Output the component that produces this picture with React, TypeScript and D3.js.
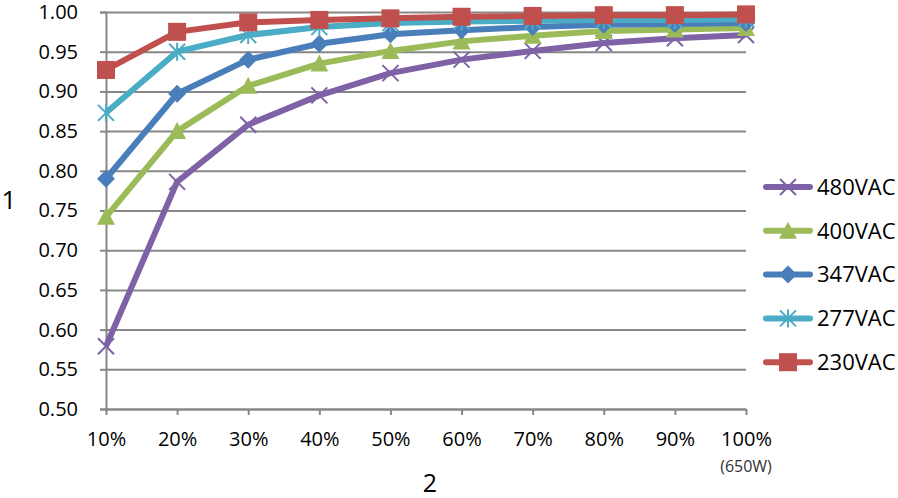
import { useEffect, useRef } from 'react'
import * as d3 from 'd3'

const loadLevels = ['10%', '20%', '30%', '40%', '50%', '60%', '70%', '80%', '90%', '100%']
const yTicks = [0.5, 0.55, 0.6, 0.65, 0.7, 0.75, 0.8, 0.85, 0.9, 0.95, 1.0]

const seriesNames = ['480VAC', '400VAC', '347VAC', '277VAC', '230VAC']
const v480 = [0.579, 0.786, 0.858, 0.895, 0.923, 0.94, 0.951, 0.961, 0.967, 0.971]
const v400 = [0.742, 0.85, 0.907, 0.935, 0.951, 0.963, 0.97, 0.976, 0.978, 0.98]
const v347 = [0.79, 0.897, 0.94, 0.96, 0.972, 0.977, 0.981, 0.984, 0.985, 0.986]
const v277 = [0.873, 0.95, 0.971, 0.981, 0.986, 0.988, 0.989, 0.99, 0.99, 0.991]
const v230 = [0.927, 0.975, 0.987, 0.99, 0.992, 0.994, 0.995, 0.996, 0.996, 0.997]
const seriesValues = [v480, v400, v347, v277, v230]
const seriesColors = ['#7f62a6', '#9bbb59', '#4a7ebb', '#4bacc6', '#c0504d']
const seriesMarkers = ['x', 'triangle', 'diamond', 'asterisk', 'square']

const FONT = '"Open Sans", "Liberation Sans", sans-serif'

type Sel = d3.Selection<SVGGElement, unknown, null, undefined>

function drawMarker(g: Sel, kind: string, cx: number, cy: number, color: string) {
  if (kind === 'square') {
    g.append('rect')
      .attr('x', cx - 9).attr('y', cy - 9)
      .attr('width', 18).attr('height', 18)
      .attr('fill', color)
  } else if (kind === 'diamond') {
    g.append('path')
      .attr('d', `M${cx},${cy - 9}L${cx + 9},${cy}L${cx},${cy + 9}L${cx - 9},${cy}Z`)
      .attr('fill', color)
  } else if (kind === 'triangle') {
    g.append('path')
      .attr('d', `M${cx},${cy - 9}L${cx + 9},${cy + 8}L${cx - 9},${cy + 8}Z`)
      .attr('fill', color)
  } else {
    const r = 8
    let d = `M${cx - r},${cy - r}L${cx + r},${cy + r}M${cx - r},${cy + r}L${cx + r},${cy - r}`
    if (kind === 'asterisk') d += `M${cx},${cy - r - 1}L${cx},${cy + r + 1}`
    g.append('path')
      .attr('d', d)
      .attr('fill', 'none')
      .attr('stroke', color)
      .attr('stroke-width', 2)
  }
}

export default function App() {
  const svgRef = useRef<SVGSVGElement>(null)

  useEffect(() => {
    if (!svgRef.current) return
    const svg = d3.select(svgRef.current)
    svg.selectAll('*').remove()

    const margin = { top: 12, right: 152, bottom: 89, left: 106 }
    const width = 898 - margin.left - margin.right
    const height = 498 - margin.top - margin.bottom
    const gridColor = '#878787'

    const g = svg.append('g').attr('transform', `translate(${margin.left},${margin.top})`)

    const x = d3.scalePoint<string>().domain(loadLevels).range([0, width])
    const y = d3.scaleLinear().domain([0.5, 1.0]).range([height, 0])

    // horizontal grid
    g.append('g')
      .call(d3.axisLeft(y).tickValues(yTicks).tickSize(-width).tickFormat(() => ''))
      .call(s => s.select('.domain').remove())
      .call(s => s.selectAll('.tick line').attr('stroke', gridColor).attr('stroke-width', 2))

    // y axis
    g.append('g')
      .call(d3.axisLeft(y).tickValues(yTicks).tickSize(6).tickPadding(22).tickFormat(d3.format('.2f')))
      .call(s => s.select('.domain').attr('stroke', gridColor).attr('stroke-width', 2))
      .call(s => s.selectAll('.tick line').attr('stroke', gridColor).attr('stroke-width', 2))
      .call(s => s.selectAll('.tick text')
        .attr('fill', '#000').attr('font-family', FONT).attr('font-size', 20))

    // x axis
    g.append('g')
      .attr('transform', `translate(0,${height})`)
      .call(d3.axisBottom(x).tickSize(6).tickSizeOuter(0).tickPadding(17))
      .call(s => s.select('.domain').attr('stroke', gridColor).attr('stroke-width', 2))
      .call(s => s.selectAll('.tick line').attr('stroke', gridColor).attr('stroke-width', 2))
      .call(s => s.selectAll('.tick text')
        .attr('fill', '#000').attr('font-family', FONT).attr('font-size', 20))

    g.append('text')
      .attr('x', width).attr('y', height + 63)
      .attr('text-anchor', 'middle')
      .attr('font-family', FONT).attr('font-size', 16)
      .attr('fill', '#333')
      .text('(650W)')

    // series lines and markers
    seriesValues.forEach((vals, i) => {
      const line = d3.line<number>()
        .x((_, j) => x(loadLevels[j]) as number)
        .y(d => y(d))
      g.append('path')
        .datum(vals)
        .attr('fill', 'none')
        .attr('stroke', seriesColors[i])
        .attr('stroke-width', 6)
        .attr('stroke-linejoin', 'round')
        .attr('d', line)
      const mg = g.append('g')
      vals.forEach((v, j) => drawMarker(mg, seriesMarkers[i], x(loadLevels[j]) as number, y(v), seriesColors[i]))
    })

    // axis titles
    svg.append('text')
      .attr('x', 9).attr('y', 209)
      .attr('text-anchor', 'middle')
      .attr('font-family', FONT).attr('font-size', 26)
      .text('1')
    svg.append('text')
      .attr('x', 430).attr('y', 492)
      .attr('text-anchor', 'middle')
      .attr('font-family', FONT).attr('font-size', 25)
      .text('2')

    // legend
    const legend = svg.append('g').attr('transform', 'translate(763,187)')
    seriesNames.forEach((name, i) => {
      const row = legend.append('g').attr('transform', `translate(0,${i * 43.8})`)
      row.append('line')
        .attr('x1', 3).attr('x2', 47)
        .attr('y1', 0).attr('y2', 0)
        .attr('stroke', seriesColors[i])
        .attr('stroke-width', 6)
        .attr('stroke-linecap', 'round')
      drawMarker(row, seriesMarkers[i], 25, 0, seriesColors[i])
      row.append('text')
        .attr('x', 54).attr('y', 0)
        .attr('dy', '0.35em')
        .attr('font-family', FONT).attr('font-size', 22)
        .attr('fill', '#000')
        .text(name)
    })
  }, [])

  return (
    <svg
      ref={svgRef}
      width={898}
      height={498}
      style={{ position: 'absolute', left: 0, top: 0, background: '#fff' }}
    />
  )
}
